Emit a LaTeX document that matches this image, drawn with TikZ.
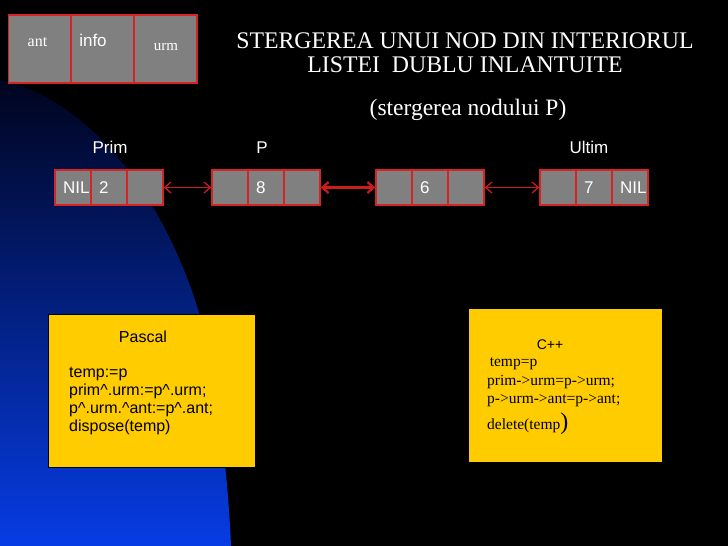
\documentclass[tikz,border=0pt]{standalone}
\usepackage{fontspec}
\setmainfont{Liberation Sans}
\newfontfamily\timesfont{Liberation Serif}
\usepackage{xcolor}
\usetikzlibrary{arrows.meta, positioning}
\definecolor{cellgray}{RGB}{128,128,128}
\definecolor{cellred}{RGB}{214,36,36}
\definecolor{linkred}{RGB}{205,28,28}
\definecolor{boxyellow}{RGB}{255,204,0}
\definecolor{bluedark}{RGB}{0,4,30}
\definecolor{bluemid}{RGB}{0,32,140}
\definecolor{bluelight}{RGB}{6,60,228}

\begin{document}
\begin{tikzpicture}[
        x=1pt, y=-1pt,
        cell/.style={
            rectangle,
            draw=cellred,
            fill=cellgray,
            line width=1.8pt,
            minimum width=36pt,
            minimum height=35pt,
            text width=20pt,
            inner xsep=8pt,
            inner ysep=0pt,
            align=left,
            text=white,
            font=\fontsize{17}{20}\selectfont
        },
        legcell/.style={
            rectangle,
            draw=cellred,
            fill=cellgray,
            line width=1.8pt,
            minimum width=63pt,
            minimum height=68pt
        },
        codebox/.style={
            rectangle,
            draw=black,
            fill=boxyellow,
            line width=1.2pt,
            anchor=north west
        },
        label/.style={
            text=white,
            anchor=base,
            font=\fontsize{17}{20}\selectfont
        },
        link/.style={
            {Straight Barb[length=6pt,width=11pt]}-{Straight Barb[length=6pt,width=11pt]},
            draw=linkred,
            line width=1.3pt
        },
        boldlink/.style={
            {Straight Barb[length=6pt,width=11pt]}-{Straight Barb[length=6pt,width=11pt]},
            draw=linkred,
            line width=2.2pt
        }
    ]
        % fundal
        \useasboundingbox (0,0) rectangle (728,546);
        \fill[black] (0,0) rectangle (728,546);
        \shade[top color=bluedark, middle color=bluemid, bottom color=bluelight]
            (0,80) .. controls (100,100) and (195,230) .. (218,400)
            .. controls (225,460) and (229,500) .. (231,546) -- (0,546) -- cycle;

        % legenda
        \node (legant) [legcell] at (40,49) {};
        \node (leginfo) [legcell] at (102.5,49) {};
        \node (legurm) [legcell] at (165.5,49) {};
        \node (txtant) [anchor=base, text=white, font=\timesfont\fontsize{16}{18}\selectfont] at (37.5,46) {ant};
        \node (txtinfo) [anchor=base, text=white, font=\fontsize{17}{20}\selectfont] at (93,46) {info};
        \node (txturm) [anchor=base, text=white, font=\timesfont\fontsize{15}{18}\selectfont] at (166,50) {urm};

        % titlu
        \node (title) [anchor=north, text=white, align=center, inner sep=0pt,
            font=\timesfont\fontsize{23.8}{23.5}\selectfont] at (465,33)
            {STERGEREA UNUI NOD DIN INTERIORUL\\LISTEI\ \ DUBLU INLANTUITE};
        \node (subtitle) [anchor=base, text=white, font=\timesfont\fontsize{23.5}{26}\selectfont] at (468,115) {(stergerea nodului P)};

        % lista
        \node (n1a) [cell] at (73,187.5) {NIL};
        \node (n1b) [cell] at (109,187.5) {2};
        \node (n1c) [cell] at (145,187.5) {};
        \node (n2a) [cell] at (230,187.5) {};
        \node (n2b) [cell] at (266,187.5) {8};
        \node (n2c) [cell] at (302,187.5) {};
        \node (n3a) [cell] at (394,187.5) {};
        \node (n3b) [cell] at (430,187.5) {6};
        \node (n3c) [cell] at (466,187.5) {};
        \node (n4a) [cell] at (558,187.5) {};
        \node (n4b) [cell] at (594,187.5) {7};
        \node (n4c) [cell] at (630,187.5) {NIL};

        \node (prim) [label] at (110,153) {Prim};
        \node (pnod) [label] at (262,153) {P};
        \node (ultim) [label] at (589,153) {Ultim};

        \draw [link] (n1c.east) -- (n2a.west);
        \draw [boldlink] (n2c.east) -- (n3a.west);
        \draw [link] (n3c.east) -- (n4a.west);

        % cod
        \node (pascal) [codebox, minimum width=207pt, minimum height=153pt] at (48,314) {};
        \node (pascaltitle) [anchor=base, font=\fontsize{16}{18}\selectfont] at (143,342) {Pascal};
        \node (pascalcode) [anchor=north west, align=left, inner sep=0pt, font=\fontsize{16}{18}\selectfont] at (69,367)
            {temp:=p\\prim\textasciicircum.urm:=p\textasciicircum.urm;\\p\textasciicircum.urm.\textasciicircum ant:=p\textasciicircum.ant;\\dispose(temp)};

        \node (cpp) [codebox, minimum width=194pt, minimum height=154pt] at (468,308) {};
        \node (cpptitle) [anchor=base, font=\fontsize{14}{18}\selectfont] at (550,349) {C++};
        \node (cppcode) [anchor=north west, align=left, inner sep=0pt, font=\timesfont\fontsize{15.5}{18.5}\selectfont] at (487,358)
            {\,temp=p\\prim->urm=p->urm;\\p->urm->ant=p->ant;\\[5pt]delete(temp{\fontsize{24}{24}\selectfont)}};
\end{tikzpicture}
\end{document}
